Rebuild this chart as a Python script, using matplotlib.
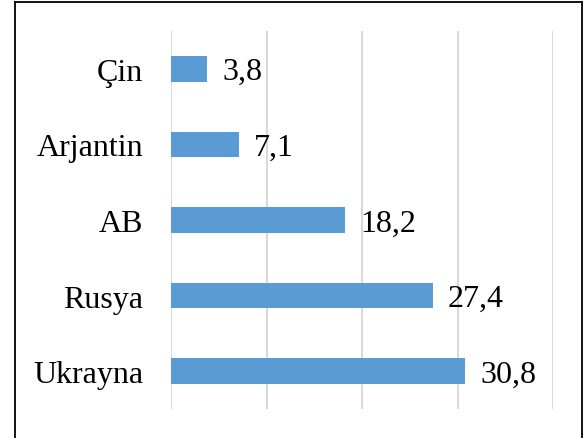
import matplotlib.pyplot as plt
from matplotlib.lines import Line2D

# veri
ulkeler = ['Çin', 'Arjantin', 'AB', 'Rusya', 'Ukrayna']
degerler = [3.8, 7.1, 18.2, 27.4, 30.8]
etiketler = ['3,8', '7,1', '18,2', '27,4', '30,8']

plt.rcParams['font.family'] = ['Liberation Serif', 'DejaVu Serif']

fig = plt.figure(figsize=(5.83, 4.39), dpi=100)
ax = fig.add_axes([171 / 583, 29 / 439, 382 / 583, 378 / 439])

y = list(range(len(ulkeler)))
ax.barh(y, degerler, height=0.34, color='#5B9BD5', zorder=3)

for yi, v, lab in zip(y, degerler, etiketler):
    ax.text(v + 1.6, yi + 0.04, lab, va='center', ha='left', fontsize=23)

ax.set_xlim(0, 40)
ax.set_ylim(4.5, -0.5)
ax.set_yticks(y)
ax.set_yticklabels(ulkeler, fontsize=23)
ax.set_xticks([0, 10, 20, 30, 40])
ax.tick_params(axis='x', labelbottom=False, length=0)
ax.tick_params(axis='y', length=0, pad=20)
ax.grid(axis='x', color='#D9D9D9', linewidth=1.5, zorder=0)
for s in ax.spines.values():
    s.set_visible(False)

# dış çerçeve
kx0, kx1, ky1 = 15 / 583, 581.5 / 583, 1 - 3 / 439
for xs, ys in [([kx0, kx0], [0, ky1]), ([kx0, kx1], [ky1, ky1]), ([kx1, kx1], [ky1, 0])]:
    fig.add_artist(Line2D(xs, ys, color='black', linewidth=1.3, transform=fig.transFigure))

plt.savefig('out.png', dpi=100)
